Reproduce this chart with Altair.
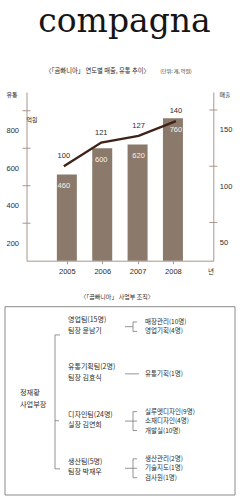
import altair as alt
import pandas as pd

# ---------------- data ----------------
years = [2005, 2006, 2007, 2008]
distribution = [460, 600, 620, 760]      # 유통 (bars, left axis)
sales = [100, 121, 127, 140]             # 매출 (line, right axis)
left_ticks = [200, 400, 600, 800]
right_ticks = [50, 100, 150]

logo_text = "compagna"
chart_title = "〈「곰빠니아」 연도별 매출, 유통 추이〉"
unit_note = "(단위: 개, 억원)"
left_title = "유통"
right_title = "매출"
left_unit = "억원"
year_unit = "년"

org_title = "〈「곰빠니아」 사업부 조직〉"
head_lines = ["정재황", "사업부장"]
team_names = ["영업팀(15명)", "유통기획팀(2명)", "디자인팀(24명)", "생산팀(5명)"]
team_leaders = ["팀장 윤남기", "팀장 김효식", "실장 김연희", "팀장 박재우"]
team_units = [
    ["매장관리(10명)", "영업기획(4명)"],
    ["유통기획(1명)"],
    ["실루엣디자인(9명)", "소재디자인(4명)", "개발실(10명)"],
    ["생산관리(2명)", "기술지도(1명)", "검사원(1명)"],
]

# ---------------- style / layout ----------------
W, H = 240, 503
KF = "Noto Sans CJK KR"
NF = "Liberation Sans, Noto Sans CJK KR"
TXT = "#2b2b2b"
AX = "#a8968c"
BAR = "#8b7a6c"
LINE = "#3d2318"
ORG_LINE = "#7a7a7a"

PX0, PX1 = 26.5, 213.3        # plot left / right
PY_BASE, PY_TOP = 260.7, 92   # plot bottom / top

xs = alt.Scale(domain=[2004, 2009], range=[PX0, PX1], nice=False, zero=False)
yl = alt.Scale(domain=[0, 900], range=[PY_BASE, PY_TOP], nice=False, zero=False)
yr = alt.Scale(domain=[16, 166], range=[PY_BASE, PY_TOP], nice=False, zero=False)

df = pd.DataFrame({"year": years, "dist": distribution, "sales": sales})

axis_common = dict(grid=False, title=None, domainColor=AX, domainWidth=1,
                   labelColor=TXT, labelFontSize=7.5, labelFont=NF)

bars = alt.Chart(df).mark_bar(size=20, color=BAR).encode(
    x=alt.X("year:Q", scale=xs,
            axis=alt.Axis(orient="bottom", offset=-(H - PY_BASE), values=years,
                          format="d", tickSize=3, tickColor=AX, labelPadding=4,
                          **axis_common)),
    y=alt.Y("dist:Q", scale=yl,
            axis=alt.Axis(orient="left", offset=-PX0, values=left_ticks,
                          ticks=False, labelOffset=20, labelPadding=8,
                          **axis_common)),
)

bar_labels = alt.Chart(df).mark_text(dy=12, color="#f6f1ec", fontSize=7.5,
                                      font=NF, baseline="middle").encode(
    x=alt.X("year:Q", scale=xs, axis=None),
    y=alt.Y("dist:Q", scale=yl, axis=None),
    text="dist:Q",
)

left_tick_marks = alt.Chart(pd.DataFrame({"v": left_ticks})).mark_rule(
    color=AX, strokeWidth=1).encode(
    x=alt.value(PX0 - 4), x2=alt.value(PX0 + 4),
    y=alt.Y("v:Q", scale=yl, axis=None),
)

line = alt.Chart(df).mark_line(color=LINE, strokeWidth=2.4).encode(
    x=alt.X("year:Q", scale=xs, axis=None),
    y=alt.Y("sales:Q", scale=yr,
            axis=alt.Axis(orient="right", offset=-(W - PX1), values=right_ticks,
                          ticks=False, labelOffset=20, labelPadding=6,
                          **axis_common)),
)

line_labels = alt.Chart(df).mark_text(dy=-10, color=TXT, fontSize=7.5,
                                       font=NF, baseline="middle").encode(
    x=alt.X("year:Q", scale=xs, axis=None),
    y=alt.Y("sales:Q", scale=yr, axis=None),
    text="sales:Q",
)

right_tick_marks = alt.Chart(pd.DataFrame({"v": right_ticks})).mark_rule(
    color=AX, strokeWidth=1).encode(
    x=alt.value(PX1 - 4), x2=alt.value(PX1 + 4),
    y=alt.Y("v:Q", scale=yr, axis=None),
)


def note(text, x, y, size, font=KF, color=TXT, align="center", weight="normal"):
    return alt.Chart(pd.DataFrame({"t": [text]})).mark_text(
        fontSize=size, font=font, color=color, align=align, baseline="middle",
        fontWeight=weight).encode(x=alt.value(x), y=alt.value(y), text="t:N")


logo = alt.Chart(pd.DataFrame({"t": [logo_text]})).mark_text(
    fontSize=33, font="DejaVu Serif", color="#151515", align="center",
    baseline="alphabetic").encode(x=alt.value(124.5), y=alt.value(31.5), text="t:N")

notes = [
    note(chart_title, 97.5, 71, 6.3),
    note(unit_note, 176, 71, 5),
    note(left_title, 12, 94.5, 6),
    note(right_title, 225, 95, 6),
    note(left_unit, 32, 120, 6),
    note(year_unit, 211, 272, 6.5),
    note(org_title, 117, 296.7, 6),
]

# ---------------- org chart ----------------
ROW = 4  # row units between team centres
ox = alt.Scale(domain=[0, W], range=[0, W], nice=False, zero=False)
oy = alt.Scale(domain=[-2, 14], range=[301.9, 490.7], nice=False, zero=False)

HEAD_X, BR1_X, TEAM_X, CON_X, BR2_X, SUB_X = 20, 55, 68, 125, 133, 145

org_text = []
org_rules = []
n_teams = len(team_names)
head_c = ROW * (n_teams - 1) / 2 + 0.2
for k, t in enumerate(head_lines):
    org_text.append(dict(t=t, x=HEAD_X, y=head_c + (k - 0.5), kind="head"))

for i, (nm, ld, units) in enumerate(zip(team_names, team_leaders, team_units)):
    c = ROW * i
    org_text.append(dict(t=nm, x=TEAM_X, y=c - 0.45, kind="team"))
    org_text.append(dict(t=ld, x=TEAM_X, y=c + 0.45, kind="team"))
    n = len(units)
    sc = c + 0.1
    ys = [sc + (j - (n - 1) / 2) * 0.8 for j in range(n)]
    for u, yy in zip(units, ys):
        org_text.append(dict(t=u, x=SUB_X, y=yy, kind="sub"))
    if n == 1:
        org_rules.append(dict(x=CON_X, x2=BR2_X + 6, y=ys[0], y2=ys[0]))
    else:
        org_rules.append(dict(x=CON_X, x2=BR2_X, y=sc, y2=sc))
        org_rules.append(dict(x=BR2_X, x2=BR2_X, y=ys[0], y2=ys[-1]))
        for yy in ys:
            org_rules.append(dict(x=BR2_X, x2=BR2_X + 4, y=yy, y2=yy))

top_b, bot_b = 0.8, ROW * (n_teams - 1) + 0.15
org_rules.append(dict(x=BR1_X, x2=BR1_X, y=top_b, y2=bot_b))
org_rules.append(dict(x=BR1_X, x2=BR1_X + 5, y=top_b, y2=top_b))
org_rules.append(dict(x=BR1_X, x2=BR1_X + 5, y=bot_b, y2=bot_b))
org_rules.append(dict(x=BR1_X, x2=BR1_X + 4, y=ROW * 2 + 0.07, y2=ROW * 2 + 0.07))

otext = pd.DataFrame(org_text)
orules = pd.DataFrame(org_rules)


def org_text_layer(kind, size):
    return alt.Chart(otext[otext.kind == kind]).mark_text(
        fontSize=size, font=KF, color=TXT, align="left", baseline="middle").encode(
        x=alt.X("x:Q", scale=ox, axis=None),
        y=alt.Y("y:Q", scale=oy, axis=None),
        text="t:N",
    )


org_lines = alt.Chart(orules).mark_rule(color=ORG_LINE, strokeWidth=0.8).encode(
    x=alt.X("x:Q", scale=ox, axis=None), x2="x2:Q",
    y=alt.Y("y:Q", scale=oy, axis=None), y2="y2:Q",
)

box = alt.Chart(pd.DataFrame({"a": [0]})).mark_rect(
    fill=None, stroke="#8a8a8a", strokeWidth=1).encode(
    x=alt.value(5), x2=alt.value(235), y=alt.value(306.7), y2=alt.value(495))

layers = [bars, bar_labels, left_tick_marks, line, line_labels, right_tick_marks,
          logo] + notes + [box, org_lines,
                           org_text_layer("head", 7.2),
                           org_text_layer("team", 7),
                           org_text_layer("sub", 6.5)]

chart = alt.layer(*layers).resolve_scale(
    x="independent", y="independent"
).properties(
    width=W, height=H, autosize="none", padding=0, background="white"
).configure_view(stroke=None)

chart.save("out.html", embed_options={"renderer": "svg", "actions": False})
